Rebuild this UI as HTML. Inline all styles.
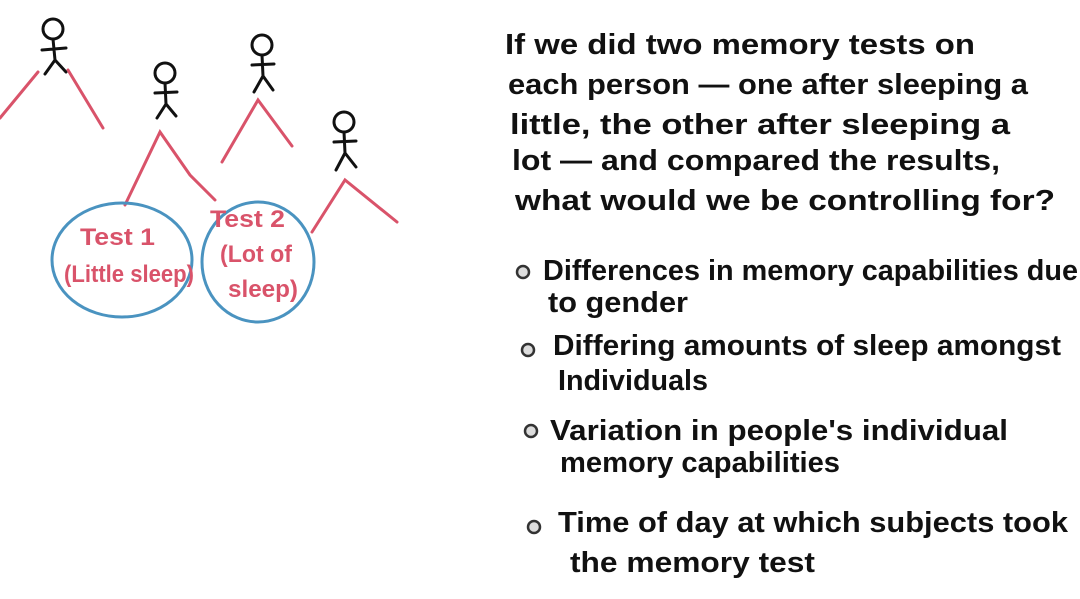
<!DOCTYPE html>
<html><head><meta charset="utf-8"><style>
html,body{margin:0;padding:0;background:#fff;}
svg{display:block;}
.t{font-family:"Liberation Sans",sans-serif;font-size:29px;font-weight:bold;fill:#111;}
.r{font-family:"Liberation Sans",sans-serif;font-size:24px;font-weight:bold;fill:#d9536a;}
</style></head><body>
<svg width="1080" height="599" viewBox="0 0 1080 599" xmlns="http://www.w3.org/2000/svg">
<g stroke="#111" stroke-width="3" fill="none" stroke-linecap="round">
 <circle cx="53" cy="29" r="10"/><path d="M53 39 L55 60 M42 50 L66 48 M55 60 L45 74 M55 60 L66 72"/>
 <circle cx="165" cy="73" r="10"/><path d="M165 83 L166 104 M155 93 L177 92 M166 104 L157 118 M166 104 L176 116"/>
 <circle cx="262" cy="45" r="10"/><path d="M262 55 L263 76 M252 65 L274 64 M263 76 L254 92 M263 76 L273 90"/>
 <circle cx="344" cy="122" r="10"/><path d="M344 132 L345 153 M334 142 L356 141 M345 153 L336 170 M345 153 L356 167"/>
</g>
<g stroke="#d9536a" stroke-width="3" fill="none" stroke-linecap="round">
 <path d="M0 118 L38 72"/><path d="M68 70 L103 128"/>
 <path d="M125 205 L160 132 L190 175 L215 200"/>
 <path d="M222 162 L258 100 L292 146"/>
 <path d="M312 232 L345 180 L397 222"/>
</g>
<g stroke="#4a93c0" stroke-width="3" fill="none">
 <ellipse cx="122" cy="260" rx="70" ry="57"/>
 <ellipse cx="258" cy="262" rx="56" ry="60"/>
</g>
<g lengthAdjust="spacingAndGlyphs">
<text class="r" x="80" y="245" textLength="75" lengthAdjust="spacingAndGlyphs">Test 1</text>
<text class="r" x="64" y="282" textLength="130" lengthAdjust="spacingAndGlyphs">(Little sleep)</text>
<text class="r" x="210" y="227" textLength="75" lengthAdjust="spacingAndGlyphs">Test 2</text>
<text class="r" x="220" y="262" textLength="72" lengthAdjust="spacingAndGlyphs">(Lot of</text>
<text class="r" x="228" y="297" textLength="70" lengthAdjust="spacingAndGlyphs">sleep)</text>

<text class="t" x="505" y="54" textLength="470" lengthAdjust="spacingAndGlyphs">If we did two memory tests on</text>
<text class="t" x="508" y="94" textLength="520" lengthAdjust="spacingAndGlyphs">each person — one after sleeping a</text>
<text class="t" x="510" y="134" textLength="500" lengthAdjust="spacingAndGlyphs">little, the other after sleeping a</text>
<text class="t" x="512" y="170" textLength="488" lengthAdjust="spacingAndGlyphs">lot — and compared the results,</text>
<text class="t" x="515" y="210" textLength="540" lengthAdjust="spacingAndGlyphs">what would we be controlling for?</text>
</g>
<g stroke="#333" stroke-width="2.5" fill="#ddd">
 <circle cx="523" cy="272" r="6"/><circle cx="528" cy="350" r="6"/>
 <circle cx="531" cy="431" r="6"/><circle cx="534" cy="527" r="6"/>
</g>
<text class="t" x="543" y="280" textLength="535" lengthAdjust="spacingAndGlyphs">Differences in memory capabilities due</text>
<text class="t" x="548" y="312" textLength="140" lengthAdjust="spacingAndGlyphs">to gender</text>
<text class="t" x="553" y="355" textLength="508" lengthAdjust="spacingAndGlyphs">Differing amounts of sleep amongst</text>
<text class="t" x="558" y="390" textLength="150" lengthAdjust="spacingAndGlyphs">Individuals</text>
<text class="t" x="550" y="440" textLength="458" lengthAdjust="spacingAndGlyphs">Variation in people's individual</text>
<text class="t" x="560" y="472" textLength="280" lengthAdjust="spacingAndGlyphs">memory capabilities</text>
<text class="t" x="558" y="532" textLength="510" lengthAdjust="spacingAndGlyphs">Time of day at which subjects took</text>
<text class="t" x="570" y="572" textLength="245" lengthAdjust="spacingAndGlyphs">the memory test</text>
</svg>
</body></html>
